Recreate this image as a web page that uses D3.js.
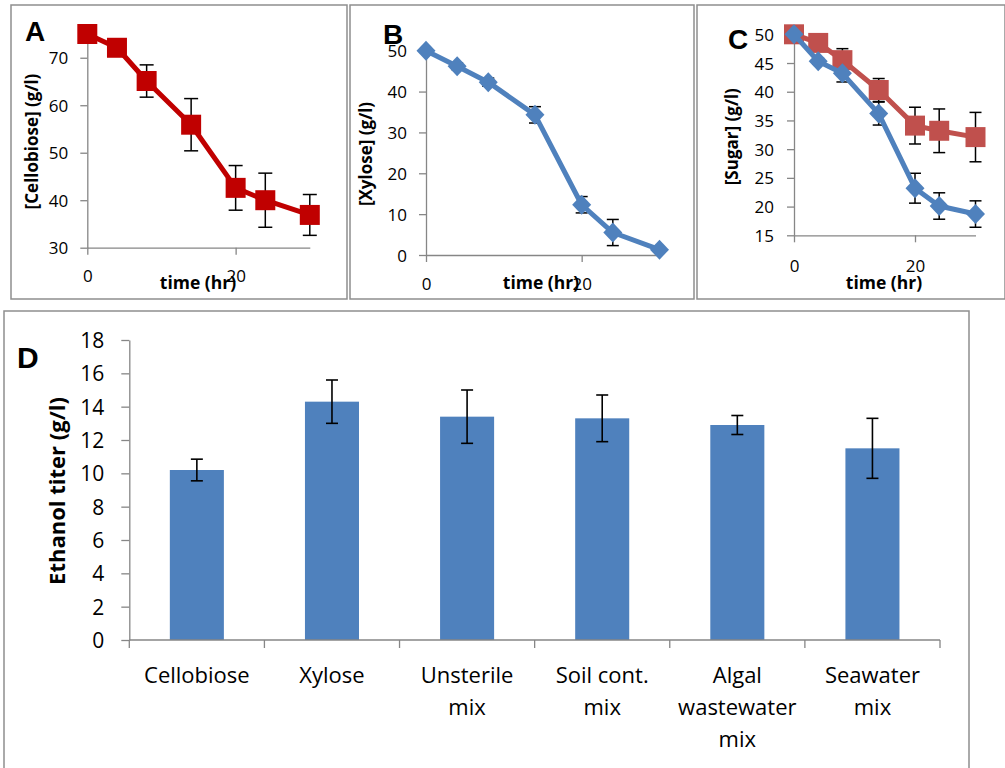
<!DOCTYPE html>
<html>
<head>
<meta charset="utf-8">
<script src="https://cdn.jsdelivr.net/npm/d3@7"></script>
<style>
  body { margin: 0; background: #fff; }
  text { font-family: "Open Sans", Lato, sans-serif; fill: #000; }
</style>
</head>
<body>
<svg id="chart"></svg>
<script>
// sampling times (hr), shared by panels A-C
const hours = [0, 4, 8, 14, 20, 24, 30];

// A: cellobiose alone
const cellobiose = [75, 72.1, 65.1, 55.9, 42.6, 40.0, 36.9];
const cellobioseErr = [0.4, 0.6, 3.4, 5.5, 4.7, 5.7, 4.3];

// B: xylose alone
const xylose = [50, 46.2, 42.3, 34.3, 12.3, 5.5, 1.3];
const xyloseErr = [0.3, 0.8, 1.0, 2.0, 2.0, 3.2, 0.3];

// C: mixed sugars
const mixCellobiose = [50, 48.5, 45.5, 40.3, 34.1, 33.2, 32.1];
const mixCellobioseErr = [0.4, 0.5, 2.0, 2.0, 3.2, 3.8, 4.3];
const mixXylose = [50, 45.3, 43.2, 36.2, 23.2, 20.1, 18.7];
const mixXyloseErr = [0.3, 0.5, 1.5, 2.0, 2.6, 2.3, 2.3];

// D: ethanol titer
const conditions = ['Cellobiose', 'Xylose', 'Unsterile mix', 'Soil cont. mix', 'Algal wastewater mix', 'Seawater mix'];
const conditionLines = [['Cellobiose'], ['Xylose'], ['Unsterile', 'mix'], ['Soil cont.', 'mix'], ['Algal', 'wastewater', 'mix'], ['Seawater', 'mix']];
const ethanol = [10.2, 14.3, 13.4, 13.3, 12.9, 11.5];
const ethanolErr = [0.65, 1.3, 1.6, 1.4, 0.57, 1.8];

const timeTicks = [0, 20];

const axisColor = '#868686';
const darkRed = '#C00000';
const softRed = '#C0504D';
const blue = '#4F81BD';

const svg = d3.select('#chart')
  .attr('width', 1005)
  .attr('height', 768);

svg.append('rect').attr('width', 1005).attr('height', 768).attr('fill', '#fff');

// panel frames
[[11, 5, 336, 294], [350, 5, 344, 294], [697, 5, 308, 294], [4, 311, 965, 470]].forEach(f => {
  svg.append('rect')
    .attr('x', f[0]).attr('y', f[1])
    .attr('width', f[2]).attr('height', f[3])
    .attr('fill', 'none')
    .attr('stroke', '#8e8e8e')
    .attr('stroke-width', 1.5);
});

function styleAxis(g) {
  g.select('.domain').attr('stroke', axisColor).attr('stroke-width', 1.3);
  g.selectAll('.tick line').attr('stroke', axisColor).attr('stroke-width', 1.3);
}

const square = 'M-10,-10H10V10H-10Z';
const diamond = 'M0,-10L9.5,0L0,10L-9.5,0Z';

function linePanel(p) {
  const x = d3.scaleLinear().domain([0, 30]).range(p.xRange);
  const y = d3.scaleLinear().domain(p.yDomain).range(p.yRange);

  const yAxis = svg.append('g')
    .attr('transform', `translate(${p.xRange[0]},0)`)
    .call(d3.axisLeft(y).tickValues(p.yTicks).tickSize(7).tickSizeOuter(0).tickPadding(p.yPad));
  styleAxis(yAxis);
  yAxis.selectAll('text').style('font-size', '17px').attr('dy', '0.36em');

  const xAxis = svg.append('g')
    .attr('transform', `translate(0,${p.yRange[0]})`)
    .call(d3.axisBottom(x).tickValues(timeTicks).tickSize(7).tickSizeOuter(0));
  styleAxis(xAxis);
  xAxis.selectAll('text').style('font-size', '17px').attr('dy', null).attr('y', p.xLabelDy);

  p.series.forEach(s => {
    const pts = hours.map((h, i) => ({ h, v: s.values[i], e: s.errors[i] }));

    const eb = svg.append('g').attr('stroke', '#000').attr('stroke-width', 1.5);
    pts.forEach(d => {
      eb.append('line')
        .attr('x1', x(d.h)).attr('x2', x(d.h))
        .attr('y1', y(d.v - d.e)).attr('y2', y(d.v + d.e));
      [d.v - d.e, d.v + d.e].forEach(v => {
        eb.append('line')
          .attr('x1', x(d.h) - p.cap).attr('x2', x(d.h) + p.cap)
          .attr('y1', y(v)).attr('y2', y(v));
      });
    });
  });

  p.series.forEach(s => {
    const pts = hours.map((h, i) => ({ h, v: s.values[i] }));
    svg.append('path')
      .datum(pts)
      .attr('fill', 'none')
      .attr('stroke', s.color)
      .attr('stroke-width', 5)
      .attr('stroke-linejoin', 'round')
      .attr('d', d3.line().x(d => x(d.h)).y(d => y(d.v)));

    svg.append('g').selectAll('path')
      .data(pts)
      .join('path')
      .attr('transform', d => `translate(${x(d.h)},${y(d.v)})`)
      .attr('d', s.marker)
      .attr('fill', s.color);
  });

  svg.append('text')
    .attr('x', p.label[1]).attr('y', p.label[2])
    .style('font-family', '"Liberation Sans", Arial, sans-serif')
    .style('font-weight', 'bold')
    .style('font-size', '28px')
    .text(p.label[0]);

  svg.append('text')
    .attr('transform', `translate(${p.yTitle[1]},${p.yTitle[2]}) rotate(-90)`)
    .attr('text-anchor', 'middle')
    .attr('dominant-baseline', 'central')
    .style('font-weight', 'bold')
    .style('font-size', '17px')
    .text(p.yTitle[0]);

  svg.append('text')
    .attr('x', p.xTitle[0]).attr('y', p.xTitle[1])
    .attr('text-anchor', 'middle')
    .style('font-weight', 'bold')
    .style('font-size', '17.5px')
    .text('time (hr)');
}

linePanel({
  xRange: [87.3, 309.8], yDomain: [30, 75], yRange: [247.7, 34], yTicks: [30, 40, 50, 60, 70],
  yPad: 12, xLabelDy: 34, cap: 7,
  series: [{ values: cellobiose, errors: cellobioseErr, color: darkRed, marker: square }],
  label: ['A', 25, 41], yTitle: ['[Cellobiose] (g/l)', 31.5, 141.5], xTitle: [198, 289]
});

linePanel({
  xRange: [426, 659.5], yDomain: [0, 50], yRange: [255, 50.7], yTicks: [0, 10, 20, 30, 40, 50],
  yPad: 12, xLabelDy: 35, cap: 6,
  series: [{ values: xylose, errors: xyloseErr, color: blue, marker: diamond }],
  label: ['B', 383, 44], yTitle: ['[Xylose] (g/l)', 365, 154], xTitle: [541, 289]
});

linePanel({
  xRange: [794, 975.5], yDomain: [15, 50], yRange: [235.3, 34.3], yTicks: [15, 20, 25, 30, 35, 40, 45, 50],
  yPad: 13, xLabelDy: 37, cap: 6,
  series: [
    { values: mixCellobiose, errors: mixCellobioseErr, color: softRed, marker: square },
    { values: mixXylose, errors: mixXyloseErr, color: blue, marker: diamond }
  ],
  label: ['C', 728, 49], yTitle: ['[Sugar] (g/l)', 731.7, 136.7], xTitle: [884, 289]
});

// D: bar chart
const xD = d3.scaleBand().domain(conditions).range([129.3, 940]).paddingInner(0.6).paddingOuter(0.3);
const yD = d3.scaleLinear().domain([0, 18]).range([640, 340]);

const yAxisD = svg.append('g')
  .attr('transform', 'translate(129.3,0)')
  .call(d3.axisLeft(yD).tickValues(d3.range(0, 19, 2)).tickSize(8).tickSizeOuter(0).tickPadding(17));
styleAxis(yAxisD);
yAxisD.selectAll('text').style('font-size', '21px').attr('dy', '0.36em');

svg.selectAll('.bar')
  .data(conditions)
  .join('rect')
  .attr('class', 'bar')
  .attr('x', d => xD(d))
  .attr('width', xD.bandwidth())
  .attr('y', (d, i) => yD(ethanol[i]))
  .attr('height', (d, i) => yD(0) - yD(ethanol[i]))
  .attr('fill', blue);

const xAxisD = svg.append('g')
  .attr('transform', 'translate(0,640)');
xAxisD.append('line')
  .attr('x1', 129.3).attr('x2', 940)
  .attr('stroke', axisColor).attr('stroke-width', 1.3);
xAxisD.selectAll('.sep')
  .data(d3.range(conditions.length + 1))
  .join('line')
  .attr('class', 'sep')
  .attr('x1', i => 129.3 + i * xD.step()).attr('x2', i => 129.3 + i * xD.step())
  .attr('y1', 0).attr('y2', 8)
  .attr('stroke', axisColor).attr('stroke-width', 1.3);

const ebD = svg.append('g').attr('stroke', '#000').attr('stroke-width', 1.6);
conditions.forEach((c, i) => {
  const cx = xD(c) + xD.bandwidth() / 2;
  ebD.append('line').attr('x1', cx).attr('x2', cx)
    .attr('y1', yD(ethanol[i] - ethanolErr[i])).attr('y2', yD(ethanol[i] + ethanolErr[i]));
  [ethanol[i] - ethanolErr[i], ethanol[i] + ethanolErr[i]].forEach(v => {
    ebD.append('line').attr('x1', cx - 6).attr('x2', cx + 6).attr('y1', yD(v)).attr('y2', yD(v));
  });
});

conditions.forEach((c, i) => {
  const t = svg.append('text')
    .attr('text-anchor', 'middle')
    .style('font-size', '22px');
  conditionLines[i].forEach((line, j) => {
    t.append('tspan')
      .attr('x', xD(c) + xD.bandwidth() / 2)
      .attr('y', 683 + j * 32)
      .text(line);
  });
});

svg.append('text')
  .attr('x', 17).attr('y', 368)
  .style('font-family', '"Liberation Sans", Arial, sans-serif')
  .style('font-weight', 'bold')
  .style('font-size', '30px')
  .text('D');

svg.append('text')
  .attr('transform', 'translate(55.5,491) rotate(-90)')
  .attr('text-anchor', 'middle')
  .attr('dominant-baseline', 'central')
  .style('font-weight', 'bold')
  .style('font-size', '22px')
  .text('Ethanol titer (g/l)');
</script>
</body>
</html>
